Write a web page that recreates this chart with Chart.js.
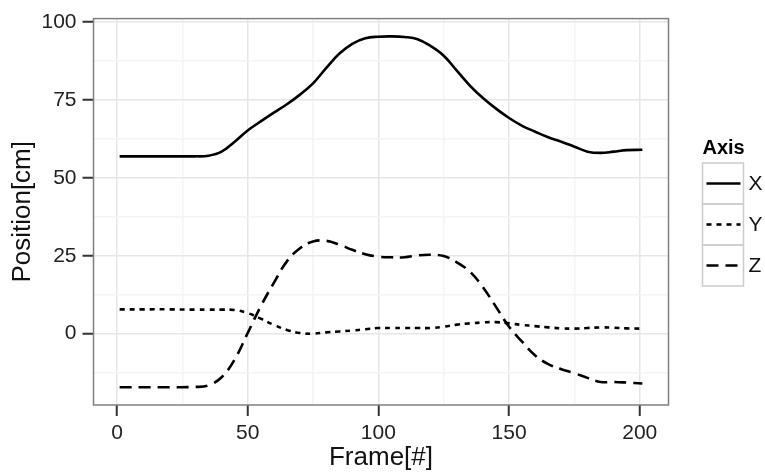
<!DOCTYPE html>
<html>
<head>
<meta charset="utf-8">
<script src="https://cdn.jsdelivr.net/npm/chart.js@4"></script>
<style>
    body { margin: 0; background: #fff; }
</style>
</head>
<body>
<canvas id="myChart" width="765" height="472"></canvas>
<script>
const frames = [1, 10, 20, 30, 35, 40, 45, 50, 55, 60, 65, 70, 75, 80, 85, 90, 95, 100, 105, 110,
    115, 120, 125, 130, 135, 140, 145, 150, 155, 160, 165, 170, 175, 180, 185, 190, 195, 201];

const posX = [56.9, 56.9, 56.9, 56.9, 57.1, 58.4, 61.6, 65.2, 68.1, 70.9, 73.6, 76.7, 80.3, 85.2, 89.8, 93.0, 94.8, 95.3, 95.4, 95.2,
    94.5, 92.3, 89.2, 84.4, 79.6, 75.6, 72.2, 69.2, 66.7, 64.8, 63.0, 61.6, 60.0, 58.4, 58.0, 58.4, 58.9, 59.0];
const posY = [7.8, 7.8, 7.8, 7.7, 7.7, 7.7, 7.6, 6.6, 4.8, 2.8, 1.2, 0.2, 0.0, 0.4, 0.7, 1.0, 1.4, 1.8, 1.8, 1.8,
    1.8, 1.8, 2.2, 2.9, 3.3, 3.6, 3.7, 3.3, 2.8, 2.4, 2.0, 1.7, 1.6, 1.8, 2.0, 1.9, 1.7, 1.6];
const posZ = [-17.2, -17.2, -17.2, -17.1, -16.6, -14.0, -8.3, 0.2, 8.8, 16.3, 23.2, 27.4, 29.6, 29.8, 28.6, 26.9, 25.5, 24.7, 24.5, 24.5,
    25.1, 25.3, 24.9, 22.9, 19.9, 14.9, 8.6, 2.2, -2.6, -7.0, -9.8, -11.4, -12.7, -14.2, -15.5, -15.5, -15.7, -16.0];

const seriesLabels = ['X', 'Y', 'Z'];
const legendTitle = 'Axis';

const xMajorTicks = [0, 50, 100, 150, 200];
const xMinorTicks = [25, 75, 125, 175];
const yMajorTicks = [0, 25, 50, 75, 100];
const yMinorTicks = [-12.5, 12.5, 37.5, 62.5, 87.5];

const FONT = "'Liberation Sans', Arial, sans-serif";

const toPoints = values => frames.map((frame, i) => ({ x: frame, y: values[i] }));

const lineStyle = (label, values, dash) => ({
    label,
    data: toPoints(values),
    borderColor: '#000',
    borderWidth: 2.6,
    borderDash: dash,
    pointRadius: 0,
    tension: 0.4,
    fill: false,
});

const gridColor = majors => ctx => majors.includes(ctx.tick.value) ? '#e6e6e6' : '#f4f4f4';
const tickColor = majors => ctx => majors.includes(ctx.tick.value) ? '#333' : 'rgba(0,0,0,0)';
const setTicks = (majors, minors) => scale => {
    scale.ticks = [...minors, ...majors].sort((a, b) => a - b).map(value => ({ value }));
};

// grey frame around the panel, like theme_bw
const panelBorder = {
    id: 'panelBorder',
    afterDatasetsDraw(chart) {
        const { ctx, chartArea: { left, top, right, bottom } } = chart;
        ctx.save();
        ctx.strokeStyle = '#808080';
        ctx.lineWidth = 1.5;
        ctx.strokeRect(left, top, right - left, bottom - top);
        ctx.restore();
    }
};

// ggplot style legend with boxed keys
const keyLegend = {
    id: 'keyLegend',
    afterDraw(chart) {
        const { ctx } = chart;
        const left = chart.chartArea.right + 34;
        const keySize = 41;
        const top = 163;
        ctx.save();
        ctx.fillStyle = '#000';
        ctx.font = `bold 20px ${FONT}`;
        ctx.textBaseline = 'middle';
        ctx.fillText(legendTitle, left, 148);
        chart.data.datasets.forEach((ds, i) => {
            const y = top + i * keySize;
            ctx.setLineDash([]);
            ctx.strokeStyle = '#cccccc';
            ctx.lineWidth = 1.5;
            ctx.strokeRect(left, y, keySize, keySize);
            ctx.strokeStyle = ds.borderColor;
            ctx.lineWidth = ds.borderWidth;
            ctx.setLineDash(ds.borderDash || []);
            ctx.beginPath();
            ctx.moveTo(left + 4, y + keySize / 2);
            ctx.lineTo(left + keySize - 3, y + keySize / 2);
            ctx.stroke();
            ctx.setLineDash([]);
            ctx.fillStyle = '#111';
            ctx.font = `21px ${FONT}`;
            ctx.fillText(ds.label, left + keySize + 5, y + keySize / 2 + 1);
        });
        ctx.restore();
    }
};

const ctx = document.getElementById('myChart').getContext('2d');

new Chart(ctx, {
    type: 'line',
    data: {
        datasets: [
            lineStyle(seriesLabels[0], posX, []),
            lineStyle(seriesLabels[1], posY, [5, 5]),
            lineStyle(seriesLabels[2], posZ, [12, 7]),
        ]
    },
    options: {
        responsive: false,
        animation: false,
        devicePixelRatio: 1,
        layout: { padding: { top: 18.5, right: 96.5, left: 0, bottom: 0 } },
        plugins: {
            legend: { display: false },
            tooltip: { enabled: false },
        },
        scales: {
            x: {
                type: 'linear',
                min: -9,
                max: 211,
                afterBuildTicks: setTicks(xMajorTicks, xMinorTicks),
                afterFit: scale => { scale.height = 67; },
                border: { display: false },
                grid: {
                    color: gridColor(xMajorTicks),
                    lineWidth: 1.5,
                    tickColor: tickColor(xMajorTicks),
                    tickWidth: 2,
                    tickLength: 11,
                },
                ticks: {
                    autoSkip: false,
                    maxRotation: 0,
                    padding: 5,
                    color: '#222',
                    font: { family: FONT, size: 21 },
                    callback: value => xMajorTicks.includes(value) ? String(value) : '',
                },
                title: {
                    display: true,
                    text: 'Frame[#]',
                    color: '#111',
                    font: { family: FONT, size: 26, lineHeight: 1 },
                    padding: { top: 0, bottom: 1 },
                },
            },
            y: {
                min: -22.9,
                max: 101.1,
                afterBuildTicks: setTicks(yMajorTicks, yMinorTicks),
                afterFit: scale => { scale.width = 93.5; },
                border: { display: false },
                grid: {
                    color: gridColor(yMajorTicks),
                    lineWidth: 1.5,
                    tickColor: tickColor(yMajorTicks),
                    tickWidth: 2,
                    tickLength: 11,
                },
                ticks: {
                    autoSkip: false,
                    padding: 6,
                    color: '#222',
                    font: { family: FONT, size: 21 },
                    callback: value => yMajorTicks.includes(value) ? String(value) : '',
                },
                title: {
                    display: true,
                    text: 'Position[cm]',
                    color: '#111',
                    font: { family: FONT, size: 26, lineHeight: 1 },
                    padding: { top: 9.5, bottom: 0 },
                },
            },
        },
    },
    plugins: [panelBorder, keyLegend],
});
</script>
</body>
</html>
